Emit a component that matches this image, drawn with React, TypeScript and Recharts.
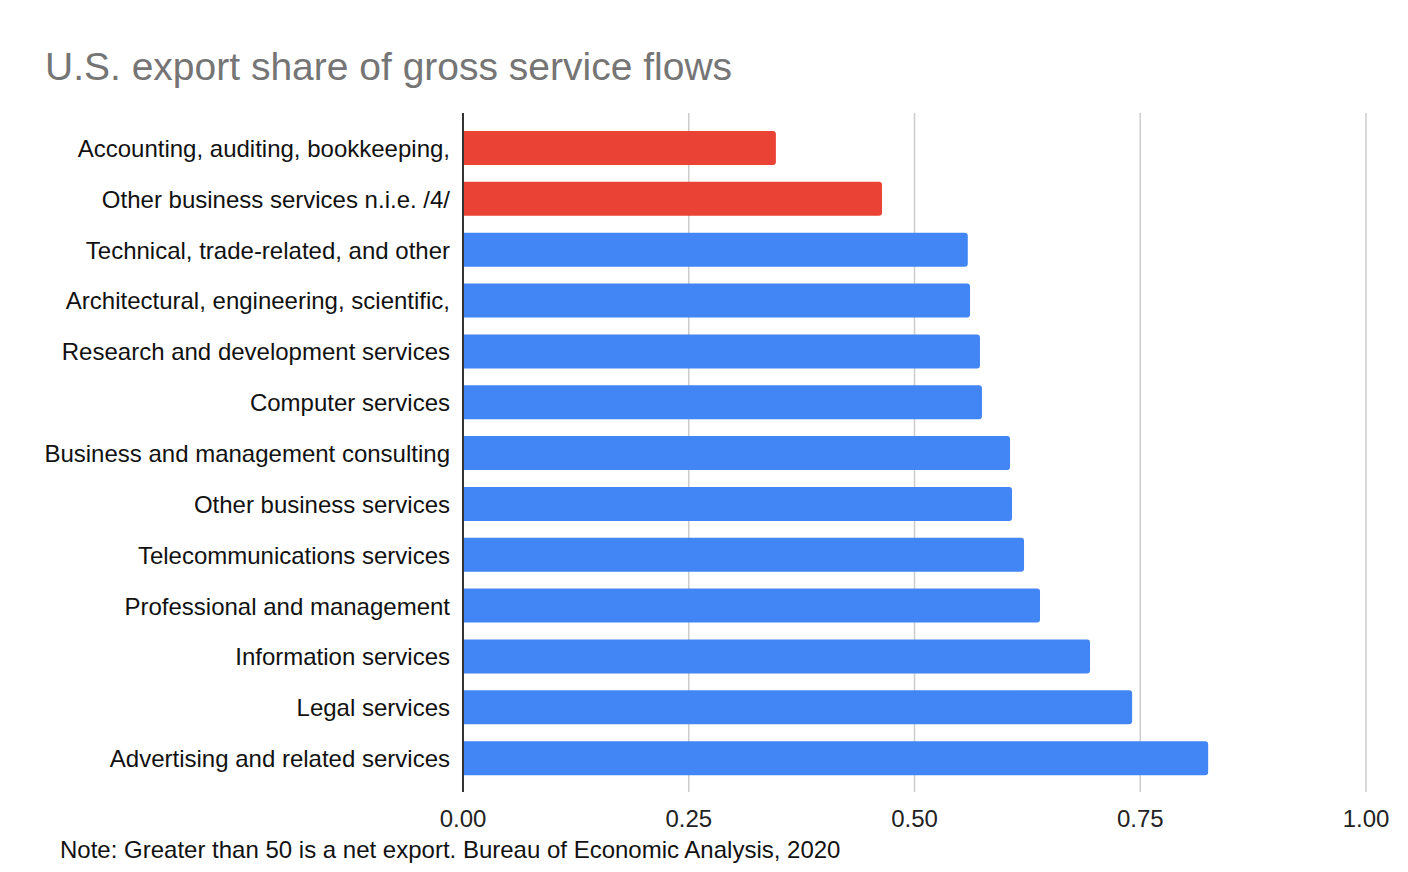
import { BarChart, Bar, XAxis, YAxis, CartesianGrid, Cell } from "recharts";

const categories = [
  "Accounting, auditing, bookkeeping,",
  "Other business services n.i.e. /4/",
  "Technical, trade-related, and other",
  "Architectural, engineering, scientific,",
  "Research and development services",
  "Computer services",
  "Business and management consulting",
  "Other business services",
  "Telecommunications services",
  "Professional and management",
  "Information services",
  "Legal services",
  "Advertising and related services",
];

const exportShare = [
  0.3465, 0.464, 0.559, 0.5615, 0.5725, 0.5747, 0.6058, 0.608, 0.6213, 0.639,
  0.6944, 0.741, 0.8252,
];

// categories drawn in red (below the net-export line)
const highlighted = [
  "Accounting, auditing, bookkeeping,",
  "Other business services n.i.e. /4/",
];

const xTicks = [0, 0.25, 0.5, 0.75, 1];

const data = categories.map((name, i) => ({ name, share: exportShare[i] }));

const font = "Arial, 'Liberation Sans', sans-serif";

export default function App() {
  return (
    <div
      style={{
        position: "absolute",
        left: 0,
        top: 0,
        width: 1408,
        height: 872,
        background: "#fff",
        fontFamily: font,
      }}
    >
      <div
        style={{
          position: "absolute",
          left: 45,
          top: 47,
          fontSize: 39,
          lineHeight: 1,
          color: "#757575",
          whiteSpace: "nowrap",
        }}
      >
        U.S. export share of gross service flows
      </div>
      <BarChart
        width={1408}
        height={872}
        data={data}
        layout="vertical"
        margin={{ top: 113, right: 42, bottom: 40, left: 0 }}
        barSize={34}
      >
        <CartesianGrid horizontal={false} stroke="#cccccc" strokeWidth={1.5} />
        <XAxis
          type="number"
          domain={[0, 1]}
          ticks={xTicks}
          tickFormatter={(v: number) => v.toFixed(2)}
          axisLine={false}
          tickLine={false}
          tickMargin={12}
          height={40}
          tick={{ fill: "#222", fontSize: 24, fontFamily: font }}
        />
        <YAxis
          type="category"
          dataKey="name"
          width={463}
          interval={0}
          axisLine={{ stroke: "#333", strokeWidth: 2 }}
          tickLine={false}
          tickMargin={7}
          padding={{ top: 10, bottom: 8 }}
          tick={{ fill: "#111", fontSize: 24, fontFamily: font }}
        />
        <Bar dataKey="share" radius={[0, 3, 3, 0]} isAnimationActive={false}>
          {data.map((d) => (
            <Cell
              key={d.name}
              fill={highlighted.includes(d.name) ? "#ea4335" : "#4285f4"}
            />
          ))}
        </Bar>
      </BarChart>
      <div
        style={{
          position: "absolute",
          left: 60,
          top: 838,
          fontSize: 24,
          lineHeight: 1,
          color: "#111",
          whiteSpace: "nowrap",
        }}
      >
        Note: Greater than 50 is a net export. Bureau of Economic Analysis, 2020
      </div>
    </div>
  );
}
